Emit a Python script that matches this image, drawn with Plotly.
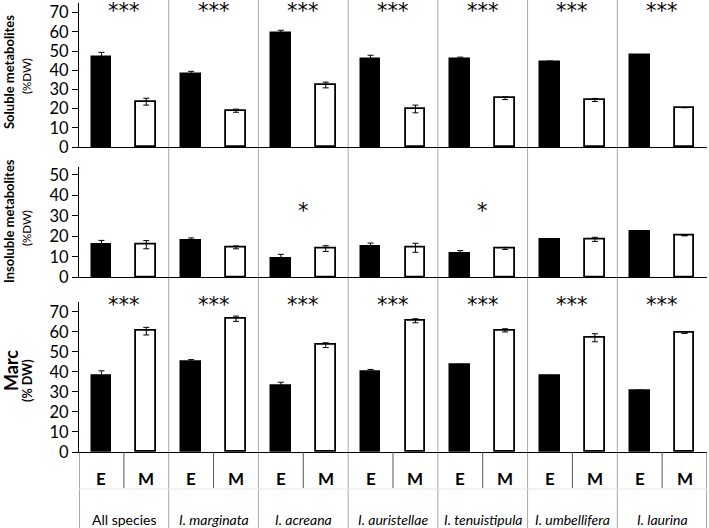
import plotly.graph_objects as go

groups = ["All species", "I. marginata", "I. acreana", "I. auristellae",
          "I. tenuistipula", "I. umbellifera", "I. laurina"]
italic_group = [False, True, True, True, True, True, True]
treatments = ["E", "M"]

soluble_E = [46.7, 38.0, 59.2, 46.0, 45.8, 44.4, 47.8]
soluble_E_err = [2.6, 1.4, 1.6, 1.8, 1.0, 0.4, 0]
soluble_M = [23.6, 18.9, 32.3, 19.8, 25.4, 24.5, 20.5]
soluble_M_err = [1.8, 0.8, 1.5, 2.0, 0.7, 0.8, 0]

insoluble_E = [15.8, 17.7, 9.3, 14.9, 11.7, 18.5, 22.4]
insoluble_E_err = [2.2, 1.5, 1.9, 1.8, 1.3, 0.3, 0]
insoluble_M = [15.9, 14.6, 14.0, 14.4, 14.1, 18.5, 20.3]
insoluble_M_err = [2.0, 0.7, 1.4, 2.2, 0.5, 1.0, 0]

marc_E = [38.3, 45.3, 33.0, 40.0, 43.5, 38.0, 30.8]
marc_E_err = [2.2, 0.8, 1.8, 1.2, 0.3, 0.3, 0]
marc_M = [60.3, 66.5, 53.3, 65.5, 60.7, 57.0, 59.3]
marc_M_err = [1.9, 1.3, 1.2, 1.0, 0.8, 2.0, 0]

sig_soluble = ["***"] * 7
sig_insoluble = ["", "", "*", "", "*", "", ""]
sig_marc = ["***"] * 7

FONT = "Lato"
STARFONT = "DejaVu Sans"
W, H = 709, 528
ML, MR, MT, MB = 79, 2, 0, 76
PH = H - MT - MB
PW = W - ML - MR


def py(px):  # pixel y -> paper y
    return (PH - (px - MT)) / PH


def pxx(px):  # pixel x -> paper x
    return (px - ML) / PW


panels = [
    dict(E=soluble_E, Ee=soluble_E_err, M=soluble_M, Me=soluble_M_err, sig=sig_soluble,
         rng=[0, 75], dom=[py(147), py(3)], tickmax=70, sigy=71.0),
    dict(E=insoluble_E, Ee=insoluble_E_err, M=insoluble_M, Me=insoluble_M_err, sig=sig_insoluble,
         rng=[0, 54], dom=[py(277.3), py(166.6)], tickmax=50, sigy=32.5),
    dict(E=marc_E, Ee=marc_E_err, M=marc_M, Me=marc_M_err, sig=sig_marc,
         rng=[0, 75], dom=[py(452), py(301.7)], tickmax=70, sigy=73.5),
]

fig = go.Figure()
xE = [2 * g for g in range(len(groups))]
xM = [2 * g + 1 for g in range(len(groups))]
annotations = []

for i, p in enumerate(panels):
    sfx = "" if i == 0 else str(i + 1)
    xa, ya = "x" + sfx, "y" + sfx
    err_style = dict(type="data", symmetric=True, color="black", thickness=1, width=3)
    fig.add_trace(go.Bar(x=xE, y=p["E"], width=0.44, xaxis=xa, yaxis=ya,
                         marker=dict(color="black", line=dict(color="black", width=1.5)),
                         error_y=dict(array=p["Ee"], **err_style), showlegend=False))
    fig.add_trace(go.Bar(x=xM, y=p["M"], width=0.44, xaxis=xa, yaxis=ya,
                         marker=dict(color="white", line=dict(color="black", width=1.8)),
                         error_y=dict(array=p["Me"], **err_style), showlegend=False))
    fig.update_layout(**{
        "xaxis" + sfx: dict(domain=[0, 1], range=[-0.5, 13.5], anchor=ya,
                             showline=True, linecolor="black", linewidth=1.2,
                             showticklabels=False, ticks="", showgrid=False, zeroline=False,
                             fixedrange=True),
        "yaxis" + sfx: dict(domain=p["dom"], range=p["rng"], anchor=xa,
                             showline=True, linecolor="black", linewidth=1.2,
                             ticks="outside", ticklen=6, tickcolor="black",
                             tickvals=list(range(0, p["tickmax"] + 1, 10)),
                             tickfont=dict(family=FONT, size=16.5, color="black"),
                             showgrid=False, zeroline=False, fixedrange=True,
                             automargin=False),
    })
    for g, s in enumerate(p["sig"]):
        if s:
            annotations.append(dict(x=2 * g + 0.5, y=p["sigy"], xref=xa, yref=ya, text=s,
                                    showarrow=False, yanchor="middle",
                                    font=dict(family=STARFONT, size=21, color="black")))

shapes = []
# gray separators between species groups (through all panels)
for g in range(1, len(groups)):
    shapes.append(dict(type="line", xref="x", yref="paper", x0=2 * g - 0.5, x1=2 * g - 0.5,
                       y0=py(H), y1=py(0), line=dict(color="#a8a8a8", width=1), layer="below"))
# outer borders of category table
for xv in [-0.5, 13.5]:
    shapes.append(dict(type="line", xref="x", yref="paper", x0=xv, x1=xv,
                       y0=py(H), y1=py(452), line=dict(color="#555555", width=1)))
# E/M dividers
for g in range(len(groups)):
    shapes.append(dict(type="line", xref="x", yref="paper", x0=2 * g + 0.5, x1=2 * g + 0.5,
                       y0=py(488), y1=py(452), line=dict(color="#555555", width=1)))
# faint horizontal divider
shapes.append(dict(type="line", xref="x", yref="paper", x0=-0.5, x1=13.5,
                   y0=py(489), y1=py(489), line=dict(color="#e6e6e6", width=1)))

# E / M labels
for g in range(len(groups)):
    for t, tr in enumerate(treatments):
        annotations.append(dict(x=2 * g + t, y=py(478), xref="x", yref="paper", text="<b>%s</b>" % tr,
                                showarrow=False, yanchor="middle",
                                font=dict(family=FONT, size=17, color="black")))
    label = "<i>%s</i>" % groups[g] if italic_group[g] else groups[g]
    annotations.append(dict(x=2 * g + 0.5, y=py(519), xref="x", yref="paper", text=label,
                            showarrow=False, yanchor="middle",
                            font=dict(family=FONT, size=14, color="black")))

# axis titles
titles = [
    ("<b>Soluble metabolites</b>", 9, 72, 13),
    ("(%DW)", 26, 76, 11.5),
    ("<b>Insoluble metabolites</b>", 9, 221, 13),
    ("(%DW)", 26, 228, 11.5),
    ("<b>Marc</b>", 11, 371, 18),
    ("<b>(% DW)</b>", 27, 381, 12.5),
]
for txt, x, y, sz in titles:
    annotations.append(dict(x=pxx(x), y=py(y), xref="paper", yref="paper", text=txt,
                            showarrow=False, textangle=-90, xanchor="center", yanchor="middle",
                            font=dict(family=FONT, size=sz, color="black")))

fig.update_layout(
    width=W, height=H,
    margin=dict(l=ML, r=MR, t=MT, b=MB, autoexpand=False),
    paper_bgcolor="white", plot_bgcolor="white",
    barmode="overlay", bargap=0,
    shapes=shapes, annotations=annotations,
    font=dict(family=FONT, color="black"),
)

fig.write_html("out.html", config={"displayModeBar": False},
               post_script="document.body.style.margin='0';document.body.style.overflow='hidden';")
